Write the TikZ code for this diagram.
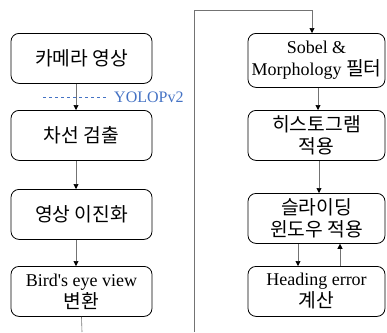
\documentclass[tikz,border=0pt]{standalone}
\usepackage{fontspec}
\usepackage{xcolor}
\usetikzlibrary{arrows.meta}
\setmainfont{Liberation Serif}
\newfontfamily\kr{Noto Sans CJK KR}[Scale=1.07]
\definecolor{yolo}{rgb}{0.266666667,0.447058824,0.768627451}
\definecolor{wire}{rgb}{0.45,0.45,0.45}
\tikzset{
  stage/.style={draw=black,line width=0.8pt,rounded corners=8pt,anchor=north,
    align=center,font=\fontsize{18}{22}\selectfont,inner sep=2pt},
  lstage/.style={stage,minimum width=141pt,minimum height=50pt},
  rstage/.style={stage,minimum width=137pt,minimum height=50pt},
  flow/.style={draw=wire,line width=0.6pt,-{Triangle[black,length=5pt,width=5pt]}},
  wire/.style={draw=wire,line width=0.6pt}
}
\begin{document}
\begin{tikzpicture}[x=1pt,y=-1pt]
                  \useasboundingbox (0,0) rectangle (387,332);
                  % left column
                  \node[lstage] (cam) at (81.5,33) {\kr 카메라 영상};
                  \node[lstage] (lane) at (81.5,110) {\kr 차선 검출};
                  \node[lstage] (bin) at (81.5,189) {\kr 영상 이진화};
                  \node[lstage] (bev) at (81.5,266) {Bird\textquotesingle s eye view\\{\kr 변환}};
                  % right column
                  \node[rstage,minimum height=54pt] (sobel) at (316.5,33) {Sobel \&\\Morphology {\kr 필터}};
                  \node[rstage] (hist) at (316.5,110) {\kr 히스토그램\\\kr 적용};
                  \node[rstage] (slide) at (316.5,193) {\kr 슬라이딩\\\kr 윈도우 적용};
                  \node[rstage] (head) at (316.5,266) {Heading error\\{\kr 계산}};
                  % YOLOPv2 note
                  \coordinate (dashl) at (43,97);
                  \coordinate (dashr) at (107,97);
                  \draw[yolo,dashed,line width=0.5pt] (dashl) -- (dashr);
                  \node[yolo,anchor=west,font=\fontsize{16}{18}\selectfont,inner sep=0pt] (yolov) at (114,97) {YOLOPv2};
                  % connectors
                  \draw[flow] ([xshift=-5.5pt]cam.south) -- ([xshift=-5.5pt]lane.north);
                  \draw[flow] ([xshift=-5.5pt]lane.south) -- ([xshift=-5.5pt]bin.north);
                  \draw[flow] ([xshift=-5.5pt]bin.south) -- ([xshift=-5.5pt]bev.north);
                  \coordinate (downl) at (82,332);
                  \coordinate (upr) at (194,332);
                  \coordinate (turn) at (194,10);
                  \draw[wire] (bev.south) -- (downl);
                  \draw[flow] (upr) -- (turn) -| ([xshift=-4.5pt]sobel.north);
                  \draw[flow] ([xshift=1.5pt]sobel.south) -- ([xshift=1.5pt]hist.north);
                  \draw[flow] ([xshift=2.5pt]hist.south) -- ([xshift=2.5pt]slide.north);
                  \draw[flow] ([xshift=-18.5pt]slide.south) -- ([xshift=-18.5pt]head.north);
                  \draw[flow] ([xshift=23.5pt]head.north) -- ([xshift=23.5pt]slide.south);
            \end{tikzpicture}
\end{document}
